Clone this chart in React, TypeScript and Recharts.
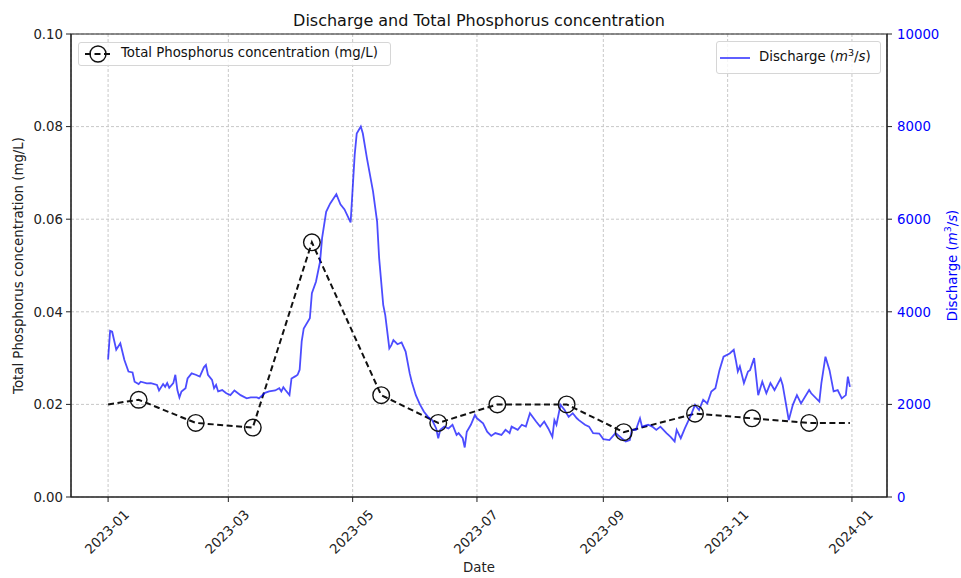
import React from 'react';
import { LineChart, Line, XAxis, YAxis, CartesianGrid, ReferenceArea } from 'recharts';

// day of year (0 = 2023-01-01) and daily discharge
const dischargeDays = [
  0, 1, 2, 4, 6, 8, 10, 12, 13, 15, 16, 19, 21, 24, 25, 27, 28, 29, 30, 32,
  33, 34, 35, 36, 38, 39, 41, 43, 45, 47, 48, 49, 51, 52, 53, 54, 56, 58, 60, 62,
  65, 68, 70, 73, 74, 77, 79, 82, 84, 85, 86, 87, 89, 90, 92, 93, 94, 95, 96, 99,
  100, 102, 104, 105, 107, 109, 112, 114, 116, 119, 121, 122, 124, 125, 127, 130, 132, 133, 135, 136,
  138, 139, 140, 142, 144, 146, 148, 149, 151, 153, 155, 157, 159, 161, 162, 163, 165, 167, 169, 171,
  172, 174, 175, 176, 178, 180, 181, 184, 186, 188, 190, 193, 195, 197, 198, 201, 203, 205, 207, 210,
  212, 214, 216, 218, 219, 220, 222, 224, 226, 228, 230, 231, 234, 236, 238, 241, 243, 246, 249, 252,
  254, 256, 257, 259, 261, 262, 265, 267, 269, 271, 274, 276, 278, 279, 281, 283, 286, 288, 290, 292,
  294, 296, 298, 300, 302, 305, 307, 308, 309, 310, 312, 314, 315, 317, 319, 321, 323, 325, 327, 330,
  331, 334, 336, 338, 340, 344, 345, 349, 350, 352, 354, 356, 358, 360, 362, 363, 364,
];
const dischargeValues = [
  2970, 3590, 3570, 3180, 3320, 2960, 2710, 2690, 2490, 2440, 2490, 2455, 2460, 2420, 2300, 2440, 2380, 2460, 2360, 2460,
  2640, 2310, 2150, 2280, 2350, 2560, 2670, 2640, 2600, 2800, 2850, 2640, 2530, 2350, 2420, 2280, 2310, 2240, 2200, 2300,
  2200, 2130, 2150, 2150, 2130, 2250, 2280, 2300, 2350, 2280, 2370, 2310, 2200, 2560, 2610, 2640, 2750, 3360, 3640, 3860,
  4400, 4650, 5080, 5590, 6160, 6340, 6540, 6320, 6210, 5930, 7390, 7850, 8000, 7850, 7320, 6600, 5950, 5160, 4150, 3930,
  3210, 3280, 3390, 3300, 3340, 3140, 2670, 2490, 2200, 2000, 1840, 1730, 1660, 1480, 1270, 1450, 1520, 1480, 1560, 1340,
  1380, 1270, 1070, 1410, 1560, 1770, 1700, 1590, 1410, 1320, 1380, 1340, 1450, 1380, 1520, 1450, 1560, 1520, 1810, 1630,
  1520, 1630, 1480, 1300, 1660, 1560, 1990, 1880, 1730, 1810, 1700, 1660, 1560, 1520, 1380, 1370, 1250, 1230, 1380, 1270,
  1200, 1230, 1450, 1450, 1700, 1520, 1560, 1520, 1450, 1520, 1380, 1300, 1200, 1450, 1270, 1480, 1770, 1990, 1880, 2100,
  2020, 2280, 2350, 2740, 3030, 3100, 3180, 2960, 2710, 2820, 2460, 2710, 2740, 3000, 2200, 2490, 2240, 2460, 2310, 2560,
  2420, 1660, 1990, 2200, 2020, 2310, 2240, 2060, 2460, 3030, 2740, 2280, 2310, 2130, 2200, 2600, 2380,
];

// total phosphorus, first and last entries are the unmarked line ends
const tpDays = [0, 15, 43, 71, 100, 134, 162, 191, 225, 253, 288, 316, 344, 364];
const tpValues = [0.02, 0.021, 0.016, 0.015, 0.055, 0.022, 0.016, 0.02, 0.02, 0.014, 0.018, 0.017, 0.016, 0.016];

const dateTicks = [0, 59, 120, 181, 243, 304, 365];
const dateLabels = ['2023-01', '2023-03', '2023-05', '2023-07', '2023-09', '2023-11', '2024-01'];
const tpTicks = [0, 0.02, 0.04, 0.06, 0.08, 0.1];
const dischargeTicks = [0, 2000, 4000, 6000, 8000, 10000];

const dischargeData = dischargeDays.map((d, i) => ({ day: d, discharge: dischargeValues[i] }));
const tpData = tpDays.map((d, i) => ({ day: d, tp: tpValues[i] }));

const FONT = '"DejaVu Sans", sans-serif';
const BLUE_LINE = 'rgba(0,0,255,0.7)';

const DateTick = (props: any) => {
  const { x, y, payload } = props;
  const idx = dateTicks.indexOf(payload.value);
  const cy = y + 28;
  return (
    <text x={x - 1} y={cy} textAnchor="middle" dominantBaseline="central" fontSize={13.3}
      fontFamily={FONT} fill="#222" transform={`rotate(-45, ${x - 1}, ${cy})`}>
      {idx >= 0 ? dateLabels[idx] : ''}
    </text>
  );
};

const TpDot = (props: any) => {
  const { cx, cy, index } = props;
  if (index === 0 || index === tpDays.length - 1) return <g key={`tp-${index}`} />;
  return <circle key={`tp-${index}`} cx={cx} cy={cy} r={8.3} fill="none" stroke="#111" strokeWidth={1.4} />;
};

export default function App() {
  return (
    <div style={{ position: 'absolute', left: 0, top: 0, width: 961, height: 578, background: '#fff', fontFamily: FONT }}>
      <LineChart width={961} height={578} margin={{ top: 34, right: 0, left: 0, bottom: 21 }}>
        <text x={479} y={26} textAnchor="middle" fontSize={16} fontFamily={FONT} fill="#111">
          Discharge and Total Phosphorus concentration
        </text>
        <CartesianGrid yAxisId="left" stroke="#c8c8c8" strokeDasharray="3 2" />
        <XAxis dataKey="day" type="number" domain={[-18.2, 382.2]} allowDataOverflow ticks={dateTicks}
          tick={<DateTick />} tickSize={5} height={60} interval={0} stroke="#222"
          label={{ content: () => (
            <text x={479} y={572} textAnchor="middle" fontSize={13.3} fontFamily={FONT} fill="#222">Date</text>
          ) }} />
        <YAxis yAxisId="left" domain={[0, 0.1]} ticks={tpTicks} width={71} tickSize={5} tickMargin={3}
          stroke="#222" tick={{ fill: '#222', fontSize: 13.3, fontFamily: FONT }}
          tickFormatter={(v: number) => v.toFixed(2)}
          label={{ content: () => (
            <text x={18} y={265.5} textAnchor="middle" dominantBaseline="central" fontSize={13.3}
              fontFamily={FONT} fill="#222" transform="rotate(-90, 18, 265.5)">
              Total Phosphorus concentration (mg/L)
            </text>
          ) }} />
        <YAxis yAxisId="right" orientation="right" domain={[0, 10000]} ticks={dischargeTicks} width={74}
          tickSize={5} tickMargin={5} stroke="#222" tick={{ fill: 'blue', fontSize: 13.3, fontFamily: FONT }}
          label={{ content: () => (
            <text x={952} y={265.5} textAnchor="middle" dominantBaseline="central" fontSize={13.3}
              fontFamily={FONT} fill="blue" transform="rotate(-90, 952, 265.5)">
              Discharge (<tspan fontStyle="italic">m</tspan><tspan dy={-5} fontSize={9.5}>3</tspan>
              <tspan dy={5}>/</tspan><tspan fontStyle="italic">s</tspan>)
            </text>
          ) }} />
        <ReferenceArea yAxisId="left" x1={-18.2} x2={382.2} y1={0} y2={0.1} fill="none" stroke="#222" strokeWidth={1.2} ifOverflow="extendDomain" />
        <Line yAxisId="left" data={tpData} dataKey="tp" type="linear" stroke="#111" strokeWidth={2}
          strokeDasharray="6 3.5" dot={<TpDot />} activeDot={false} isAnimationActive={false} />
        <Line yAxisId="right" data={dischargeData} dataKey="discharge" type="linear" stroke={BLUE_LINE}
          strokeWidth={1.8} dot={false} activeDot={false} isAnimationActive={false} />
      </LineChart>

      <div style={{ position: 'absolute', left: 78, top: 42, width: 311, height: 22, border: '1px solid #d6d6d6',
        borderRadius: 3, background: 'rgba(255,255,255,0.8)', fontSize: 13.3, color: '#111' }}>
        <svg width={30} height={22} style={{ position: 'absolute', left: 5, top: 0 }}>
          <line x1={1} y1={11} x2={28} y2={11} stroke="#111" strokeWidth={2} strokeDasharray="6 3.5" />
          <circle cx={14} cy={11} r={8} fill="none" stroke="#111" strokeWidth={1.4} />
        </svg>
        <span style={{ position: 'absolute', left: 42, top: 2, whiteSpace: 'nowrap' }}>
          Total Phosphorus concentration (mg/L)
        </span>
      </div>

      <div style={{ position: 'absolute', left: 716, top: 41, width: 163, height: 31, border: '1px solid #d6d6d6',
        borderRadius: 3, background: 'rgba(255,255,255,0.8)', fontSize: 13.3, color: '#111' }}>
        <svg width={32} height={31} style={{ position: 'absolute', left: 2, top: 0 }}>
          <line x1={1} y1={16} x2={31} y2={16} stroke={BLUE_LINE} strokeWidth={1.8} />
        </svg>
        <span style={{ position: 'absolute', left: 42, top: 7, whiteSpace: 'nowrap' }}>
          Discharge (<i>m</i><sup style={{ fontSize: 9.5, lineHeight: 0 }}>3</sup>/<i>s</i>)
        </span>
      </div>
    </div>
  );
}
